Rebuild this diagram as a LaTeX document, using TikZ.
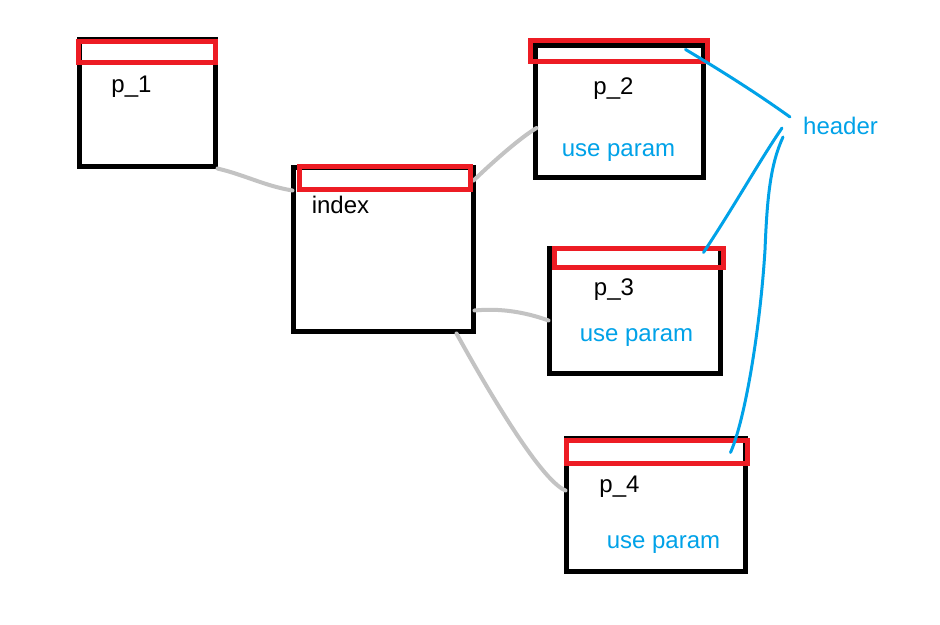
\documentclass[tikz,border=0pt]{standalone}
\usepackage{fontspec}
\setmainfont{Liberation Sans}
\usetikzlibrary{calc}
\definecolor{pred}{HTML}{ED1C24}
\definecolor{pblue}{HTML}{00A2E8}
\definecolor{pgray}{HTML}{C3C3C3}
\begin{document}
\begin{tikzpicture}[x=1pt,y=-1pt,
  box/.style={draw=black,line width=5pt,inner sep=0pt},
  hdr/.style={draw=pred,line width=5pt,inner sep=0pt},
  lbl/.style={font=\fontsize{24}{28}\selectfont,inner sep=0pt},
  blbl/.style={lbl,text=pblue},
  conn/.style={draw=pgray,line width=4pt,line cap=round},
  hline/.style={draw=pblue,line width=3pt,line cap=round}]
\fill[white] (0,0) rectangle (940,624);
\useasboundingbox (0,0) rectangle (940,624);
% boxes
\node[box,minimum width=136pt,minimum height=127pt] (p1) at (147,102.5) {};
\node[box,minimum width=180pt,minimum height=164pt] (index) at (383,249) {};
\node[box,minimum width=168pt,minimum height=132pt] (p2) at (619,111) {};
\node[box,minimum width=171pt,minimum height=125pt] (p3) at (634.5,310.5) {};
\node[box,minimum width=179pt,minimum height=133pt] (p4) at (655.5,504.5) {};
% gray connectors
\draw[conn] (p1.south east) .. controls (245,175) and (265,186) .. ($(index.north west)+(2,26)$);
\draw[conn] ($(index.north east)+(-2,16)$) .. controls (495,160) and (520,138) .. ($(p2.west)+(4,17)$);
\draw[conn] ($(index.south east)+(-1,-23)$) .. controls (500,308) and (525,312) .. ($(p3.west)+(2,10)$);
\draw[conn] ($(index.south east)+(-19,0)$) .. controls (485,385) and (540,480) .. ($(p4.west)+(2,-14)$);
% header bars
\node[hdr,minimum width=137pt,minimum height=21pt] (h1) at (146.5,51.5) {};
\node[hdr,minimum width=171pt,minimum height=23pt] (hidx) at (384.5,177.5) {};
\node[hdr,minimum width=177pt,minimum height=21pt] (h2) at (618.5,50.5) {};
\node[hdr,minimum width=169pt,minimum height=19pt] (h3) at (638.5,257.5) {};
\node[hdr,minimum width=181pt,minimum height=23pt] (h4) at (656.5,451.5) {};
% labels
\node[lbl] (t1) at (131.5,87) {p\_1};
\node[lbl] (tidx) at (340.5,204.5) {index};
\node[lbl] (t2) at (613.5,89) {p\_2};
\node[blbl] (u2) at (618.5,153) {use param};
\node[lbl] (t3) at (614,289.5) {p\_3};
\node[blbl] (u3) at (636.5,337.5) {use param};
\node[lbl] (t4) at (619.5,486.5) {p\_4};
\node[blbl] (u4) at (663.5,544.5) {use param};
\node[blbl,anchor=west] (header) at (803,126) {header};
% blue pointer lines
\draw[hline] ($(h2.east)+(-24,-1)$) .. controls (720,70) and (755,92) .. ($(header.west)+(-13,-9)$);
\draw[hline] ($(header.west)+(-21,2)$) .. controls (760,160) and (735,205) .. ($(h3.north east)+(-22,7)$);
\draw[hline] ($(header.west)+(-20,11)$) .. controls (770,165) and (767,200) .. (765,250)
  .. controls (760,330) and (745,420) .. ($(h4.east)+(-19,1)$);
\end{tikzpicture}
\end{document}
